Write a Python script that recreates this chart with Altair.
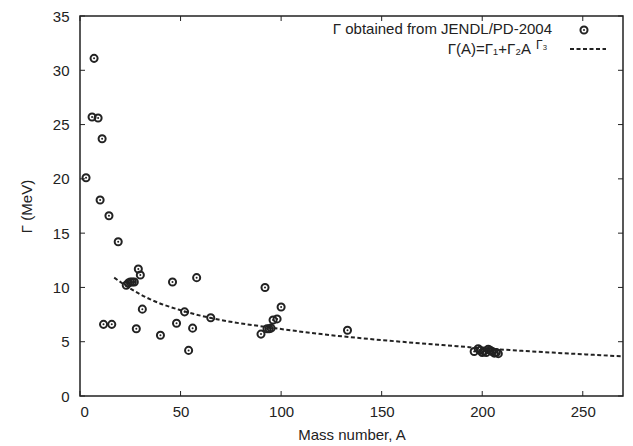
import altair as alt
import pandas as pd

# Data
mass_A = [3, 7, 6, 9, 11, 10, 14.4, 19, 11.7, 15.8, 29, 30,
          23, 24, 25, 26, 27, 46, 58, 31, 52, 65, 28, 48, 56, 40, 54,
          92, 100, 96, 98, 93, 94, 95, 90, 133,
          196, 198, 199, 200, 201, 202, 203, 204, 205, 206, 207, 208]
gamma_MeV = [20.1, 31.1, 25.7, 25.6, 23.7, 18.05, 16.6, 14.2, 6.6, 6.6, 11.7, 11.15,
             10.2, 10.4, 10.5, 10.5, 10.5, 10.5, 10.9, 8.0, 7.75, 7.2, 6.2, 6.7, 6.25, 5.6, 4.2,
             10.0, 8.2, 7.0, 7.1, 6.2, 6.2, 6.25, 5.7, 6.05,
             4.1, 4.35, 4.2, 4.0, 4.15, 4.0, 4.3, 4.2, 4.1, 3.95, 4.0, 3.9]

fit_A = [17, 25, 35, 50, 70, 93, 120, 150, 180, 200, 230, 270]
fit_G = [10.9, 9.9, 8.9, 7.9, 7.0, 6.35, 5.7, 5.15, 4.7, 4.4, 4.05, 3.65]

x_ticks = [0, 50, 100, 150, 200, 250]
y_ticks = [0, 5, 10, 15, 20, 25, 30, 35]

W, H = 543, 380
FONT = "Liberation Sans"
INK = "#222222"

pts = pd.DataFrame({"A": mass_A, "G": gamma_MeV})
fit = pd.DataFrame({"A": fit_A, "G": fit_G})
xt = pd.DataFrame({"t": x_ticks})
yt = pd.DataFrame({"t": y_ticks})

xs = alt.Scale(domain=[0, 270], nice=False, zero=False)
ys = alt.Scale(domain=[0, 35], nice=False, zero=False)

axis_style = dict(ticks=False, domain=False, grid=False,
                  labelFont=FONT, labelFontSize=15, labelColor=INK,
                  titleFont=FONT, titleFontSize=15, titleColor=INK,
                  titleFontWeight="normal")
x_axis = alt.Axis(values=x_ticks, title="Mass number, A", labelPadding=8,
                  titlePadding=8, **axis_style)
y_axis = alt.Axis(values=y_ticks, title="Γ (MeV)", labelPadding=11,
                  titlePadding=18, **axis_style)

base_pts = alt.Chart(pts)
ring = base_pts.mark_point(shape="circle", size=50, filled=False, stroke=INK,
                           strokeWidth=2, opacity=1).encode(
    x=alt.X("A:Q", scale=xs, axis=x_axis),
    y=alt.Y("G:Q", scale=ys, axis=y_axis))
dot = base_pts.mark_point(shape="circle", size=4, filled=True, fill=INK,
                          opacity=1).encode(x=alt.X("A:Q", scale=xs), y=alt.Y("G:Q", scale=ys))

curve = alt.Chart(fit).mark_line(color=INK, strokeWidth=2, strokeDash=[4, 2.5],
                                 interpolate="monotone").encode(
    x=alt.X("A:Q", scale=xs), y=alt.Y("G:Q", scale=ys))

tick_len = 5
xb = alt.Chart(xt).mark_rule(color=INK, strokeWidth=1).encode(
    x=alt.X("t:Q", scale=xs), y=alt.value(H), y2=alt.value(H - tick_len))
xtop = alt.Chart(xt).mark_rule(color=INK, strokeWidth=1).encode(
    x=alt.X("t:Q", scale=xs), y=alt.value(0), y2=alt.value(tick_len))
yl = alt.Chart(yt).mark_rule(color=INK, strokeWidth=1).encode(
    y=alt.Y("t:Q", scale=ys), x=alt.value(0), x2=alt.value(tick_len))
yr = alt.Chart(yt).mark_rule(color=INK, strokeWidth=1).encode(
    y=alt.Y("t:Q", scale=ys), x=alt.value(W), x2=alt.value(W - tick_len))

# Legend (manual, gnuplot style)
one = pd.DataFrame({"k": [0]})
leg1 = alt.Chart(one).mark_text(text="Γ obtained from JENDL/PD-2004", align="right",
                                baseline="alphabetic", font=FONT, fontSize=15, color=INK).encode(
    x=alt.value(472), y=alt.value(18))
leg_ring = alt.Chart(one).mark_point(shape="circle", size=50, filled=False, stroke=INK,
                                     strokeWidth=2, opacity=1).encode(
    x=alt.value(504), y=alt.value(14))
leg_dot = alt.Chart(one).mark_point(shape="circle", size=4, filled=True, fill=INK,
                                    opacity=1).encode(x=alt.value(504), y=alt.value(14))
leg2 = alt.Chart(one).mark_text(text="Γ(A)=Γ₁+Γ₂A", align="right", baseline="alphabetic",
                                font=FONT, fontSize=15, color=INK).encode(
    x=alt.value(451), y=alt.value(38))
leg2s = alt.Chart(one).mark_text(text="Γ₃", align="left", baseline="alphabetic",
                                 font=FONT, fontSize=12, color=INK).encode(
    x=alt.value(456), y=alt.value(32.5))
leg_line = alt.Chart(one).mark_rule(color=INK, strokeWidth=2, strokeDash=[4, 2.5]).encode(
    x=alt.value(490), x2=alt.value(526), y=alt.value(33))

chart = alt.layer(curve, ring, dot, xb, xtop, yl, yr,
                  leg1, leg_ring, leg_dot, leg2, leg2s, leg_line).properties(
    width=W, height=H,
    autosize=alt.AutoSizeParams(type="none"),
    padding={"left": 80, "top": 16, "right": 10, "bottom": 50},
    background="white",
).configure_view(stroke=INK, strokeWidth=1.5)

chart.save("out.html", embed_options={"renderer": "svg", "actions": False})
